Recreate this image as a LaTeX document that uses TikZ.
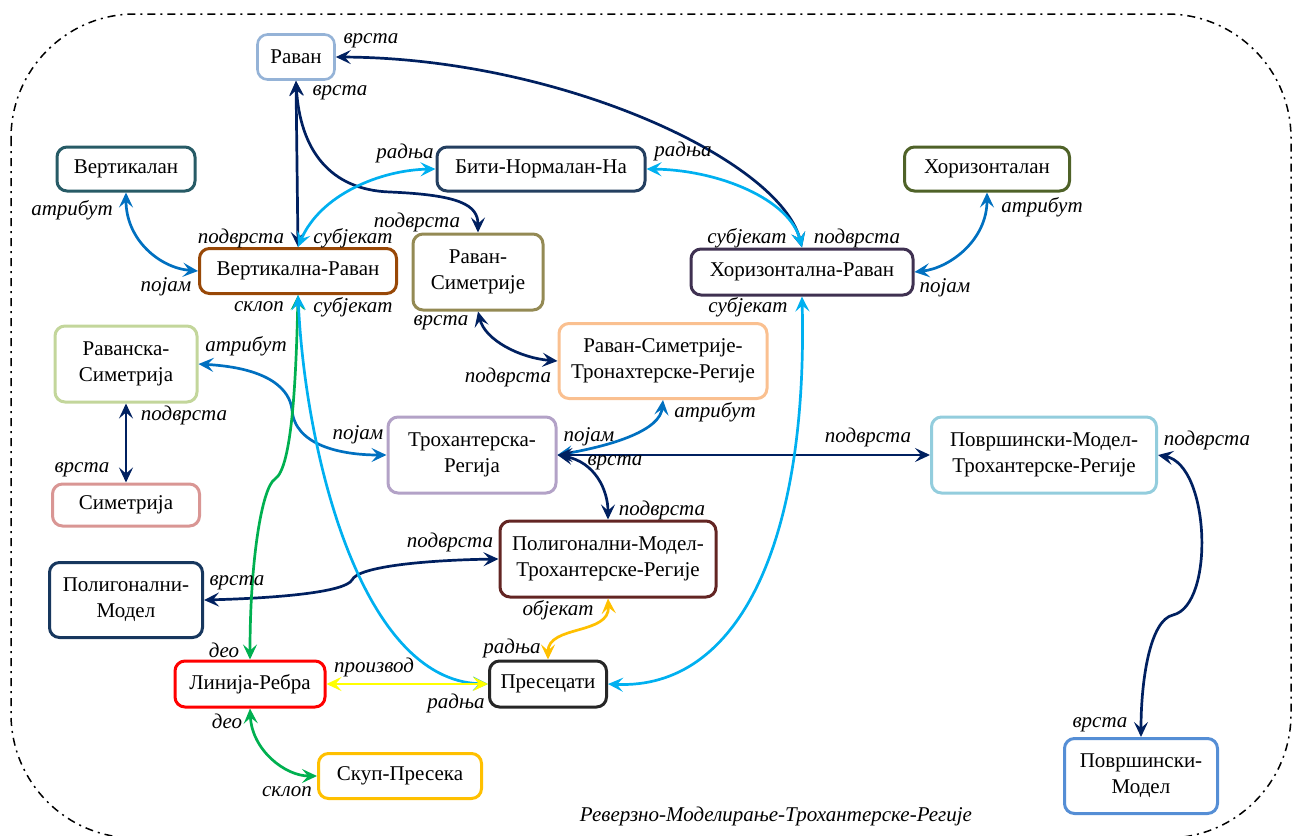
\documentclass[tikz,border=0pt]{standalone}
\usepackage{fontspec}
\setmainfont{Liberation Serif}
\usetikzlibrary{arrows.meta}

% connector colours
\definecolor{navy}{HTML}{002060}
\definecolor{skyblue}{HTML}{00B0F0}
\definecolor{midblue}{HTML}{0070C0}
\definecolor{leafgreen}{HTML}{00B050}
\definecolor{brightyellow}{HTML}{FFFF00}
\definecolor{gold}{HTML}{FFC000}
% box outline colours
\definecolor{bRavan}{HTML}{95B3D7}
\definecolor{bVert}{HTML}{275B66}
\definecolor{bBiti}{HTML}{243F60}
\definecolor{bHoriz}{HTML}{4F6228}
\definecolor{bVR}{HTML}{984807}
\definecolor{bRS}{HTML}{948A54}
\definecolor{bHR}{HTML}{3F3151}
\definecolor{bRSim}{HTML}{C3D69B}
\definecolor{bRST}{HTML}{FAC090}
\definecolor{bTR}{HTML}{B3A2C7}
\definecolor{bPMTR}{HTML}{93CDDD}
\definecolor{bSim}{HTML}{D99694}
\definecolor{bPolMTR}{HTML}{632523}
\definecolor{bPolM}{HTML}{17375E}
\definecolor{bLR}{HTML}{FF0000}
\definecolor{bPres}{HTML}{262626}
\definecolor{bSkup}{HTML}{FFC000}
\definecolor{bPM}{HTML}{558ED5}

\begin{document}
\begin{tikzpicture}[x=0.5pt,y=-0.5pt,
  box/.style={draw, rounded corners=5pt, line width=1.5pt, fill=white,
    align=center, inner sep=0pt, font=\fontsize{10.5}{13}\selectfont},
  lbl/.style={inner sep=0pt, font=\fontsize{10.5}{12}\selectfont\itshape},
  link/.style={line width=1.35pt,
    {Stealth[length=7.5pt,width=7pt,inset=3pt]}-{Stealth[length=7.5pt,width=7pt,inset=3pt]}},
  frame/.style={line width=0.75pt, dash pattern=on 4pt off 2.5pt on 1pt off 2.5pt}
]
\useasboundingbox (0,0) rectangle (1292,836);

% outer dash-dot frame
\draw[frame, rounded corners=62pt] (11,14) rectangle (1291,838);

% concepts
\node[box, draw=bRavan, line width=1.3pt, minimum width=38.5pt, minimum height=22.5pt] (raven) at (296,57) {Раван};
\node[box, draw=bVert, minimum width=69pt, minimum height=22pt] (vertikalan) at (126,169) {Вертикалан};
\node[box, draw=bBiti, minimum width=104pt, minimum height=22pt] (biti) at (541,169) {Бити-Нормалан-На};
\node[box, draw=bHoriz, minimum width=82.5pt, minimum height=22pt] (horiz) at (987,169) {Хоризонталан};
\node[box, draw=bVR, minimum width=98.5pt, minimum height=22.5pt] (vr) at (298,271) {Вертикална-Раван};
\node[box, draw=bRS, minimum width=65pt, minimum height=38pt] (rs) at (478,272) {Раван-\\Симетрије};
\node[box, draw=bHR, minimum width=111pt, minimum height=23pt] (hr) at (802,272) {Хоризонтална-Раван};
\node[box, draw=bRSim, minimum width=71pt, minimum height=38pt] (rsim) at (126,364) {Раванска-\\Симетрија};
\node[box, draw=bRST, minimum width=104pt, minimum height=37.5pt] (rst) at (663,361) {Раван-Симетрије-\\Тронахтерске-Регије};
\node[box, draw=bTR, minimum width=84pt, minimum height=38pt] (tr) at (472,455) {Трохантерска-\\Регија};
\node[box, draw=bPMTR, minimum width=112.5pt, minimum height=38pt] (pmtr) at (1044,455) {Површински-Модел-\\Трохантерске-Регије};
\node[box, draw=bSim, minimum width=73.5pt, minimum height=21pt] (sim) at (126,505) {Симетрија};
\node[box, draw=bPolMTR, minimum width=108pt, minimum height=38pt] (polmtr) at (608,559) {Полигонални-Модел-\\Трохантерске-Регије};
\node[box, draw=bPolM, minimum width=76.5pt, minimum height=37.5pt] (polm) at (126,600) {Полигонални-\\Модел};
\node[box, draw=bLR, minimum width=75pt, minimum height=23pt] (lr) at (250,684) {Линија-Ребра};
\node[box, draw=bPres, minimum width=58.5pt, minimum height=23pt] (pres) at (548,684) {Пресецати};
\node[box, draw=bSkup, minimum width=81.5pt, minimum height=22.5pt] (skup) at (400,776) {Скуп-Пресека};
\node[box, draw=bPM, minimum width=76.5pt, minimum height=37.5pt] (pm) at (1141,776) {Површински-\\Модел};

% relations
\draw[link, navy] (raven.south) -- (vr.north);
\draw[link, navy] (raven.south) .. controls (300,150) and (330,190) .. (390,192)
  .. controls (460,195) and (478,205) .. (rs.north);
\draw[link, navy] (raven.east) .. controls (560,58) and (780,160) .. (hr.north);
\draw[link, skyblue] (vr.north) .. controls (320,195) and (380,170) .. (biti.west);
\draw[link, skyblue] (hr.north) .. controls (790,200) and (720,170) .. (biti.east);
\draw[link, midblue] (vertikalan.south) .. controls (126,240) and (160,268) .. (vr.west);
\draw[link, midblue] (horiz.south) .. controls (987,240) and (950,268) .. (hr.east);
\draw[link, navy] (rs.south) .. controls (485,340) and (520,358) .. (rst.west);
\draw[link, midblue] (rsim.east) .. controls (270,368) and (290,390) .. (292,410)
  .. controls (295,445) and (340,455) .. (tr.west);
\draw[link, navy] (rsim.south) -- (sim.north);
\draw[link, midblue] (tr.east) .. controls (615,445) and (660,430) .. (rst.south);
\draw[link, navy] (tr.east) -- (pmtr.west);
\draw[link, navy] (tr.east) .. controls (595,462) and (608,490) .. (polmtr.north);
\draw[link, navy] (pmtr.east) .. controls (1210,465) and (1215,605) .. (1173,615)
  .. controls (1150,620) and (1141,680) .. (pm.north);
\draw[link, navy] (polm.east) .. controls (280,598) and (345,592) .. (352,580)
  .. controls (358,566) and (430,560) .. (polmtr.west);
\draw[link, leafgreen] (vr.south) .. controls (296,380) and (292,468) .. (275,479)
  .. controls (262,487) and (250,560) .. (lr.north);
\draw[link, skyblue] (vr.south) .. controls (305,450) and (360,680) .. (pres.west);
\draw[link, skyblue] (hr.south) .. controls (808,540) and (740,690) .. (pres.east);
\draw[link, brightyellow] (lr.east) -- (pres.west);
\draw[link, gold] (polmtr.south) .. controls (610,635) and (548,625) .. (pres.north);
\draw[link, leafgreen] (lr.south) .. controls (252,750) and (285,776) .. (skup.west);

% role labels
\node[lbl] (l01) at (371,41) {врста};
\node[lbl] (l02) at (340,93) {врста};
\node[lbl] (l03) at (405,153) {радња};
\node[lbl] (l04) at (683,151) {радња};
\node[lbl] (l05) at (72,210) {атрибут};
\node[lbl] (l06) at (1042,207) {атрибут};
\node[lbl] (l07) at (241,238) {подврста};
\node[lbl] (l08) at (353,238) {субјекат};
\node[lbl] (l09) at (417,222) {подврста};
\node[lbl] (l10) at (747,238) {субјекат};
\node[lbl] (l11) at (857,238) {подврста};
\node[lbl] (l12) at (166,287) {појам};
\node[lbl] (l13) at (945,288) {појам};
\node[lbl] (l14) at (259,307) {склоп};
\node[lbl] (l15) at (353,307) {субјекат};
\node[lbl] (l16) at (748,307) {субјекат};
\node[lbl] (l17) at (441,323) {врста};
\node[lbl] (l18) at (246,346) {атрибут};
\node[lbl] (l19) at (508,377) {подврста};
\node[lbl] (l20) at (184,415) {подврста};
\node[lbl] (l21) at (715,412) {атрибут};
\node[lbl] (l22) at (358,435) {појам};
\node[lbl] (l23) at (589,437) {појам};
\node[lbl] (l24) at (868,437) {подврста};
\node[lbl] (l25) at (1207,440) {подврста};
\node[lbl] (l26) at (615,463) {врста};
\node[lbl] (l27) at (82,470) {врста};
\node[lbl] (l28) at (662,510) {подврста};
\node[lbl] (l29) at (450,542) {подврста};
\node[lbl] (l30) at (237,583) {врста};
\node[lbl] (l31) at (558,610) {објекат};
\node[lbl] (l32) at (224,650) {део};
\node[lbl] (l33) at (512,648) {радња};
\node[lbl] (l34) at (374,667) {производ};
\node[lbl] (l35) at (456,703) {радња};
\node[lbl] (l36) at (227,721) {део};
\node[lbl] (l37) at (287,792) {склоп};
\node[lbl] (l38) at (1100,725) {врста};
\node[lbl] (title) at (776,816) {Реверзно-Моделирање-Трохантерске-Регије};
\end{tikzpicture}
\end{document}
